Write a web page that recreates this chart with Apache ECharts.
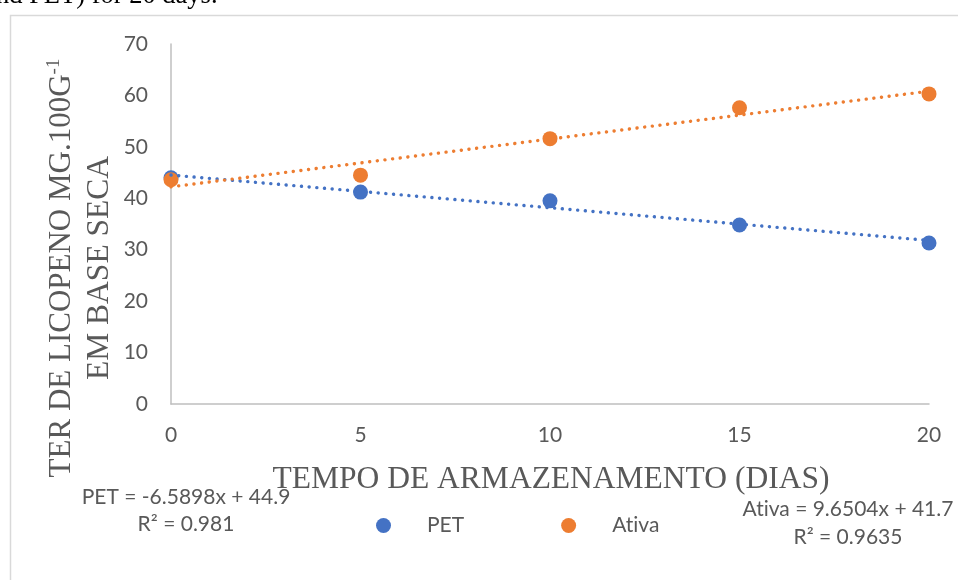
<!DOCTYPE html>
<html>
<head>
<meta charset="utf-8">
<script src="https://cdn.jsdelivr.net/npm/echarts@6/dist/echarts.min.js"></script>
<style>
  html, body { margin: 0; padding: 0; background: #fff; }
  #chart { width: 958px; height: 580px; }
</style>
</head>
<body>
<div id="chart"></div>
<script>
// Storage time (days)
const days = [0, 5, 10, 15, 20];
// Lycopene content per packaging type
const petValues = [44.0, 41.2, 39.5, 34.8, 31.3];
const ativaValues = [43.6, 44.5, 51.6, 57.6, 60.3];
// Axis ticks
const yTicks = [0, 10, 20, 30, 40, 50, 60, 70];
const xTicks = [0, 5, 10, 15, 20];
// Trendline equations as printed on the chart
const petEquation = ['PET = -6.5898x + 44.9', 'R² = 0.981'];
const ativaEquation = ['Ativa = 9.6504x + 41.7', 'R² = 0.9635'];

const BLUE = '#4472C4';
const ORANGE = '#ED7D31';
const GREY_TEXT = '#595959';
const SERIF = '"Liberation Serif", "Times New Roman", serif';
const SANS = 'Lato, "Open Sans", sans-serif';

// Lato joins "ti" into a ligature; a zero-width non-joiner keeps the letters apart
const noLigature = (s) => s.replace(/ti/g, 't\u200Ci');

// Least-squares linear fit, drawn between the first and last day
function linearFit(xs, ys) {
  const n = xs.length;
  const mx = xs.reduce((a, b) => a + b, 0) / n;
  const my = ys.reduce((a, b) => a + b, 0) / n;
  let sxy = 0, sxx = 0;
  for (let i = 0; i < n; i++) {
    sxy += (xs[i] - mx) * (ys[i] - my);
    sxx += (xs[i] - mx) * (xs[i] - mx);
  }
  const slope = sxy / sxx;
  const icpt = my - slope * mx;
  const x0 = xs[0], x1 = xs[n - 1];
  return [[x0, icpt + slope * x0], [x1, icpt + slope * x1]];
}

const chart = echarts.init(document.getElementById('chart'), null, { renderer: 'canvas' });

const trendStyle = (color) => ({
  color: color,
  width: 3.4,
  type: [0.1, 7.6],
  cap: 'round',
  opacity: 1
});

const eqText = (text, x, y) => ({
  type: 'text', x: x, y: y,
  style: { text: noLigature(text), font: '21px ' + SANS, fill: GREY_TEXT, align: 'center', verticalAlign: 'middle' }
});

chart.setOption({
  animation: false,
  backgroundColor: '#ffffff',
  grid: { left: 171, right: 29, top: 44, bottom: 176, containLabel: false },
  xAxis: {
    type: 'value',
    min: xTicks[0],
    max: xTicks[xTicks.length - 1],
    interval: 5,
    axisLine: { show: true, lineStyle: { color: '#BFBFBF', width: 1.5 } },
    axisTick: { show: false },
    splitLine: { show: false },
    axisLabel: { color: GREY_TEXT, fontFamily: SANS, fontSize: 21, margin: 21 }
  },
  yAxis: {
    type: 'value',
    min: yTicks[0],
    max: yTicks[yTicks.length - 1],
    interval: 10,
    axisLine: { show: true, lineStyle: { color: '#BFBFBF', width: 1.5 } },
    axisTick: { show: false },
    splitLine: { show: false },
    axisLabel: { color: GREY_TEXT, fontFamily: SANS, fontSize: 21, margin: 23 }
  },
  legend: {
    data: ['PET', 'Ativa'],
    left: 371,
    top: 510,
    icon: 'circle',
    itemWidth: 15,
    itemHeight: 15,
    itemGap: 97,
    formatter: (name) => '{pad| }' + noLigature(name),
    textStyle: {
      color: GREY_TEXT,
      fontFamily: SANS,
      fontSize: 21,
      rich: { pad: { width: 31, fontSize: 21 } }
    }
  },
  series: [
    {
      name: 'PET',
      type: 'scatter',
      symbol: 'circle',
      symbolSize: 15,
      itemStyle: { color: BLUE, opacity: 1 },
      data: days.map((d, i) => [d, petValues[i]]),
      z: 3
    },
    {
      name: 'Ativa',
      type: 'scatter',
      symbol: 'circle',
      symbolSize: 15,
      itemStyle: { color: ORANGE, opacity: 1 },
      data: days.map((d, i) => [d, ativaValues[i]]),
      z: 3
    },
    {
      name: 'PET trend',
      type: 'line',
      showSymbol: false,
      symbol: 'none',
      silent: true,
      lineStyle: trendStyle(BLUE),
      data: linearFit(days, petValues),
      z: 4
    },
    {
      name: 'Ativa trend',
      type: 'line',
      showSymbol: false,
      symbol: 'none',
      silent: true,
      lineStyle: trendStyle(ORANGE),
      data: linearFit(days, ativaValues),
      z: 4
    }
  ],
  graphic: [
    // outer chart frame
    {
      type: 'rect',
      shape: { x: 10.5, y: 15.5, width: 1000, height: 700 },
      style: { fill: 'none', stroke: '#D9D9D9', lineWidth: 1.5 },
      silent: true
    },
    // caption line above the frame
    {
      type: 'text',
      x: -4, y: 10,
      style: {
        text: 'nd PET) for 20 days.',
        font: '26.5px ' + SERIF,
        fill: '#000000',
        align: 'left',
        verticalAlign: 'bottom'
      }
    },
    // y axis title, two lines read bottom-to-top
    {
      type: 'text',
      x: 62, y: 268,
      rotation: Math.PI / 2,
      style: {
        text: '{a|TER DE LICOPENO MG.100G}{s|-1}',
        align: 'center',
        verticalAlign: 'middle',
        rich: {
          a: { fontFamily: SERIF, fontSize: 31, fill: GREY_TEXT, lineHeight: 34 },
          s: { fontFamily: SERIF, fontSize: 19, fill: GREY_TEXT, verticalAlign: 'top', lineHeight: 34 }
        }
      }
    },
    {
      type: 'text',
      x: 100, y: 268,
      rotation: Math.PI / 2,
      style: {
        text: 'EM BASE SECA',
        font: '31.5px ' + SERIF,
        fill: GREY_TEXT,
        align: 'center',
        verticalAlign: 'middle'
      }
    },
    // x axis title
    {
      type: 'text',
      x: 551, y: 480,
      style: {
        text: 'TEMPO DE ARMAZENAMENTO (DIAS)',
        font: '31.5px ' + SERIF,
        fill: GREY_TEXT,
        align: 'center',
        verticalAlign: 'middle'
      }
    },
    // trendline equations
    eqText(petEquation[0], 186, 497),
    eqText(petEquation[1], 186, 524),
    eqText(ativaEquation[0], 848, 509),
    eqText(ativaEquation[1], 848, 537)
  ]
});
</script>
</body>
</html>
